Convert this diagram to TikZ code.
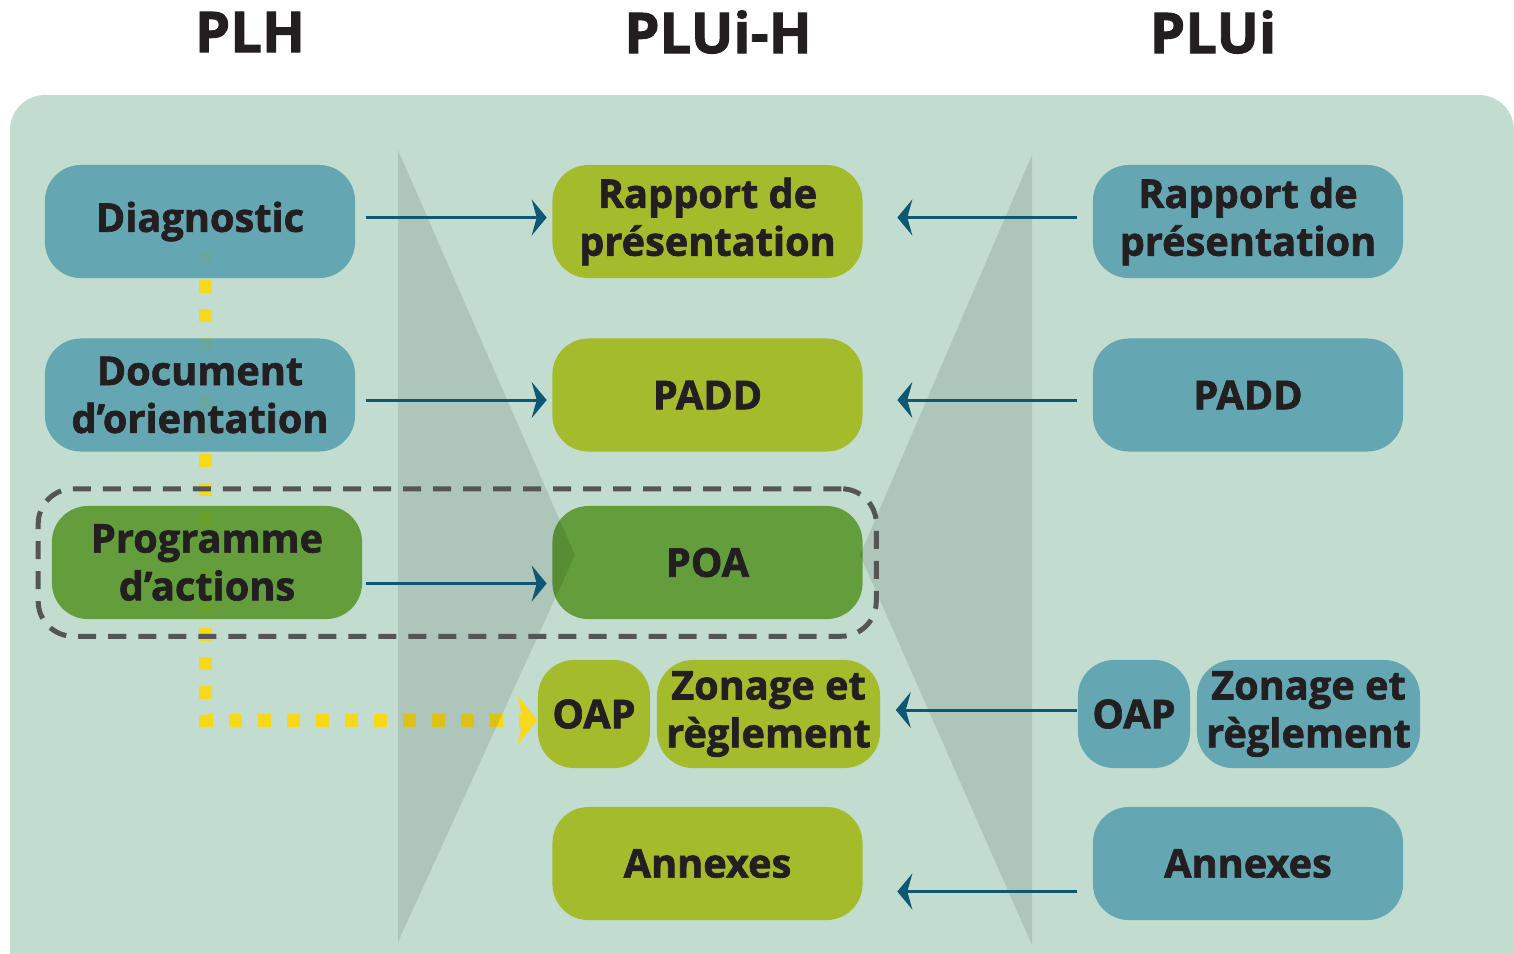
\documentclass[tikz,border=0pt]{standalone}
\usepackage{fontspec}
\setmainfont{Open Sans}[BoldFeatures={FakeBold=1.6}]
\usetikzlibrary{arrows.meta,fit}

\definecolor{fond}{HTML}{C2DDD0}
\definecolor{bleu}{HTML}{5AA1AE}
\definecolor{anis}{HTML}{A1B81A}
\definecolor{vert}{HTML}{5A982C}
\definecolor{petrole}{HTML}{0E5873}
\definecolor{jaune}{HTML}{F8D81B}
\definecolor{encre}{HTML}{231F20}
\definecolor{gris}{HTML}{555555}

\pgfdeclarelayer{arriere}
\pgfsetlayers{arriere,main}

\tikzset{
  bloc/.style={rounded corners=0.36cm, minimum width=3.1cm, minimum height=1.13cm,
    inner sep=0pt, align=center, text=encre, fill opacity=0.9, text opacity=1,
    font=\bfseries\fontsize{11.3}{13.6}\selectfont},
  plh/.style={bloc, fill=bleu},
  pluih/.style={bloc, fill=anis},
  actions/.style={bloc, fill=vert},
  petit/.style={minimum width=1.12cm, minimum height=1.08cm},
  moyen/.style={minimum width=2.23cm, minimum height=1.08cm},
  fleche/.style={draw=petrole, line width=0.03cm,
    -{Stealth[length=0.15cm,width=0.36cm,inset=0.05cm]}},
  pointilles/.style={draw=jaune, line width=0.13cm, dash pattern=on 0.13cm off 0.16cm,
    -{Stealth[length=0.2cm,width=0.5cm,inset=0.06cm,line width=0pt,fill=jaune]}},
  cadre/.style={draw=gris, line width=0.05cm, dash pattern=on 0.18cm off 0.12cm,
    rounded corners=0.35cm, inner xsep=0.13cm, inner ysep=0.165cm},
  titre/.style={text=encre, font=\bfseries\fontsize{16}{19}\selectfont},
  ombre/.style={fill=black, fill opacity=0.1}
}

\begin{document}
\begin{tikzpicture}[x=0.01cm, y=-0.01cm]

    \useasboundingbox (0,0) rectangle (1514,953);
    \clip (0,0) rectangle (1514,953);

    % Titres des colonnes
    \node[titre] (tPLH) at (250,32) {PLH};
    \node[titre] (tPLUIH) at (718,32) {PLUi-H};
    \node[titre] (tPLUI) at (1213,32) {PLUi};

    % Colonne PLH
    \node[plh] (diag) at (200,221.5) {Diagnostic};
    \node[plh] (doc) at (200,395) {Document\\d’orientation};
    \node[actions] (prog) at (207,562.5) {Programme\\d’actions};

    % Colonne PLUi-H
    \node[pluih] (rapM) at (707.5,221.5) {Rapport de\\présentation};
    \node[pluih] (paddM) at (707.5,395) {PADD};
    \node[actions] (poa) at (707.5,562.5) {POA};
    \node[pluih, petit] (oapM) at (594,714) {OAP};
    \node[pluih, moyen] (zonM) at (768.5,714) {Zonage et\\règlement};
    \node[pluih] (annM) at (707.5,863.5) {Annexes};

    % Colonne PLUi
    \node[plh] (rapR) at (1248,221.5) {Rapport de\\présentation};
    \node[plh] (paddR) at (1248,395) {PADD};
    \node[plh, petit] (oapR) at (1134,714) {OAP};
    \node[plh, moyen] (zonR) at (1308.5,714) {Zonage et\\règlement};
    \node[plh] (annR) at (1248,863.5) {Annexes};

    % Fond et liaison PLH -> OAP
    \begin{pgfonlayer}{arriere}
        \fill[fond, rounded corners=0.35cm] (10,95) rectangle (1514,990);
        \draw[pointilles] ([xshift=0.05cm,yshift=0.28cm]diag.south) |- ([yshift=-0.06cm]oapM.west);
    \end{pgfonlayer}

    % Triangles d'ombre
    \fill[ombre] (398,150) -- (575,555) -- (398,942) -- cycle;
    \fill[ombre] (1032,155) -- (860,555) -- (1032,945) -- cycle;

    % Flèches PLH -> PLUi-H
    \draw[fleche, shorten <=0.1cm, shorten >=0.05cm] ([yshift=0.04cm]diag.east) -- ([yshift=0.04cm]rapM.west);
    \draw[fleche, shorten <=0.1cm, shorten >=0.05cm] ([yshift=-0.05cm]doc.east) -- ([yshift=-0.05cm]paddM.west);
    \draw[fleche, shorten <=0.03cm, shorten >=0.05cm] ([yshift=-0.21cm]prog.east) -- ([yshift=-0.21cm]poa.west);

    % Flèches PLUi -> PLUi-H
    \draw[fleche, shorten <=0.15cm, shorten >=0.34cm] ([yshift=0.04cm]rapR.west) -- ([yshift=0.04cm]rapM.east);
    \draw[fleche, shorten <=0.15cm, shorten >=0.34cm] ([yshift=-0.05cm]paddR.west) -- ([yshift=-0.05cm]paddM.east);
    \draw[fleche, shorten >=0.15cm] ([yshift=0.04cm]oapR.west) -- ([yshift=0.04cm]zonM.east);
    \draw[fleche, shorten <=0.15cm, shorten >=0.34cm] ([yshift=-0.28cm]annR.west) -- ([yshift=-0.28cm]annM.east);

    % Cadre POA
    \node[cadre, fit=(prog)(poa)] (groupe) {};

\end{tikzpicture}
\end{document}
